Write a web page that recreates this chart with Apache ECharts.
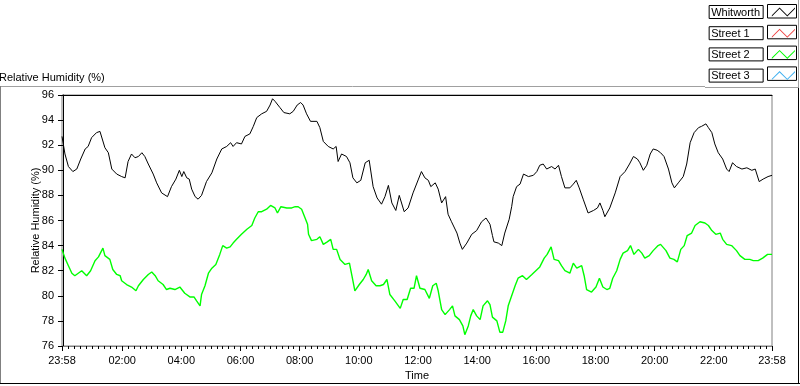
<!DOCTYPE html>
<html>
<head>
<meta charset="utf-8">
<title>Relative Humidity</title>
<script src="https://cdn.jsdelivr.net/npm/echarts@6/dist/echarts.min.js"></script>
<style>
  html, body { margin: 0; padding: 0; background: #fff; }
  #chart { width: 800px; height: 386px; }
</style>
</head>
<body>
<div id="chart"></div>
<script>
// time is minutes after midnight, the day runs 23:58 (-2) .. 23:58 (1438)
const xTickMinutes = [-2, 120, 240, 360, 480, 600, 720, 840, 960, 1080, 1200, 1320, 1438]
const xTickLabels = ['23:58', '02:00', '04:00', '06:00', '08:00', '10:00', '12:00', '14:00', '16:00', '18:00', '20:00', '22:00', '23:58']
const legendNames = ['Whitworth', 'Street 1', 'Street 2', 'Street 3']
const legendColors = ['#000000', '#f04040', '#00ff00', '#40b0f0']

// [minute, %RH]
const whitworth = [
  [-2, 92.7], [4, 91.3], [11, 90.3], [20, 89.9], [28, 90.1], [36, 90.9], [45, 91.7], [51, 91.9], [58, 92.6], [68, 93.0],
  [75, 93.1], [79, 93.0], [85, 91.8], [92, 91.4], [99, 90.1], [109, 89.7], [119, 89.5], [126, 89.4], [132, 90.7], [139, 91.3],
  [146, 91.0], [153, 91.1], [160, 91.4], [166, 91.1], [173, 90.5], [183, 89.7], [190, 89.0], [200, 88.2], [212, 87.9], [220, 88.7],
  [229, 89.3], [236, 90.0], [241, 89.5], [245, 89.9], [251, 89.4], [256, 89.3], [261, 88.5], [268, 87.9], [274, 87.7], [281, 88.0],
  [291, 89.1], [302, 89.8], [312, 90.9], [322, 91.7], [332, 91.9], [340, 92.2], [345, 91.9], [352, 92.2], [362, 92.1], [369, 92.7],
  [379, 92.9], [386, 93.5], [393, 94.2], [403, 94.5], [413, 94.7], [420, 95.2], [425, 95.7], [430, 95.5], [440, 95.0], [448, 94.6],
  [460, 94.5], [467, 94.7], [475, 95.2], [482, 95.4], [487, 95.2], [494, 94.5], [502, 93.9], [515, 93.9], [521, 93.4], [528, 92.3],
  [538, 91.9], [548, 91.7], [554, 91.9], [558, 90.7], [565, 91.3], [575, 91.1], [582, 90.6], [588, 89.4], [596, 89.0], [604, 89.2],
  [613, 90.6], [621, 90.8], [629, 88.7], [637, 87.8], [646, 87.3], [653, 87.9], [660, 88.8], [667, 87.4], [675, 86.8], [682, 88.0],
  [692, 86.7], [700, 87.0], [710, 88.2], [721, 89.3], [727, 89.9], [734, 89.4], [741, 89.2], [746, 88.7], [755, 89.0], [761, 88.5],
  [768, 87.4], [776, 87.9], [781, 86.5], [788, 85.9], [799, 85.0], [805, 84.2], [810, 83.7], [819, 84.2], [829, 84.9], [839, 85.2],
  [849, 85.9], [858, 86.2], [866, 85.7], [871, 84.8], [874, 84.3], [883, 84.2], [890, 84.0], [896, 85.0], [905, 86.1], [910, 87.1],
  [913, 87.9], [920, 88.7], [927, 88.9], [934, 89.7], [944, 89.5], [954, 89.6], [961, 89.9], [967, 90.4], [974, 90.5], [981, 90.1],
  [991, 90.3], [998, 90.1], [1005, 90.4], [1011, 89.5], [1018, 88.6], [1028, 88.6], [1035, 88.9], [1041, 89.2], [1047, 88.6], [1055, 87.7],
  [1065, 86.6], [1076, 86.8], [1084, 87.0], [1089, 87.4], [1095, 86.8], [1099, 86.3], [1109, 87.0], [1120, 88.2], [1130, 89.5], [1140, 89.9],
  [1149, 90.5], [1157, 91.1], [1165, 90.9], [1170, 90.6], [1177, 90.0], [1184, 90.4], [1191, 91.3], [1197, 91.7], [1205, 91.6], [1212, 91.4],
  [1219, 91.1], [1228, 90.1], [1235, 89.0], [1240, 88.6], [1248, 89.0], [1258, 89.5], [1265, 90.5], [1272, 92.2], [1280, 93.0], [1289, 93.4],
  [1295, 93.5], [1304, 93.7], [1309, 93.4], [1316, 93.0], [1322, 92.1], [1329, 91.4], [1338, 90.9], [1346, 90.1], [1351, 89.9], [1358, 90.6],
  [1366, 90.3], [1377, 90.1], [1387, 90.2], [1397, 90.0], [1404, 90.1], [1412, 89.1], [1420, 89.3], [1430, 89.5], [1438, 89.6]
]

const street2 = [
  [-2, 83.7], [4, 83.0], [11, 82.4], [18, 81.8], [24, 81.6], [31, 81.8], [38, 82.0], [48, 81.6], [56, 82.0], [65, 82.8],
  [72, 83.1], [81, 83.8], [85, 83.2], [95, 82.9], [101, 82.1], [109, 81.7], [116, 81.6], [119, 81.2], [129, 80.9], [139, 80.7],
  [148, 80.4], [153, 80.8], [163, 81.3], [173, 81.7], [180, 81.9], [187, 81.6], [193, 81.2], [203, 80.9], [210, 80.5], [217, 80.6],
  [227, 80.5], [237, 80.7], [247, 80.2], [258, 79.9], [266, 79.9], [271, 79.6], [278, 79.2], [281, 80.1], [288, 80.8], [295, 81.8],
  [302, 82.2], [310, 82.5], [318, 83.3], [324, 84.0], [332, 83.8], [339, 83.9], [345, 84.2], [352, 84.5], [362, 84.9], [373, 85.3],
  [383, 85.6], [389, 86.2], [396, 86.7], [403, 86.7], [413, 86.9], [421, 87.2], [430, 87.0], [435, 86.6], [442, 87.1], [454, 87.0],
  [464, 87.0], [471, 87.1], [477, 87.1], [484, 86.9], [491, 86.2], [496, 85.7], [498, 84.9], [504, 84.4], [515, 84.5], [521, 84.7],
  [528, 84.1], [536, 84.3], [543, 84.5], [548, 83.7], [555, 83.7], [562, 82.9], [572, 82.5], [581, 82.6], [586, 81.6], [592, 80.4],
  [601, 80.9], [609, 81.3], [615, 81.7], [619, 82.1], [626, 81.2], [635, 80.8], [643, 80.8], [650, 80.9], [657, 81.3], [663, 80.1],
  [673, 79.6], [684, 79.0], [690, 79.7], [698, 79.7], [705, 80.6], [712, 80.6], [717, 81.6], [724, 80.6], [734, 80.5], [743, 79.8],
  [750, 80.8], [757, 81.0], [761, 80.4], [768, 78.9], [775, 78.5], [784, 78.9], [790, 79.2], [795, 78.4], [804, 78.1], [811, 77.6],
  [815, 76.9], [822, 77.6], [827, 78.4], [832, 78.9], [839, 78.4], [846, 78.1], [852, 79.2], [861, 79.6], [866, 79.3], [871, 78.3],
  [880, 78.0], [886, 77.1], [892, 77.1], [898, 78.0], [903, 79.2], [910, 80.0], [917, 80.8], [923, 81.4], [932, 81.6], [940, 81.3],
  [951, 81.7], [959, 82.0], [967, 82.3], [976, 83.0], [982, 83.3], [990, 83.9], [996, 82.9], [1005, 82.8], [1011, 82.4], [1018, 82.0],
  [1028, 81.8], [1035, 82.6], [1042, 82.2], [1052, 82.4], [1057, 81.6], [1062, 80.5], [1072, 80.3], [1081, 80.7], [1088, 81.4], [1095, 80.7],
  [1103, 80.5], [1109, 80.6], [1115, 81.4], [1123, 82.0], [1130, 82.9], [1136, 83.4], [1145, 83.6], [1151, 84.0], [1158, 83.3], [1167, 83.7],
  [1174, 83.4], [1180, 83.0], [1189, 83.2], [1197, 83.6], [1207, 84.0], [1212, 84.1], [1223, 83.6], [1231, 83.0], [1239, 82.9], [1246, 82.7],
  [1253, 83.7], [1260, 84.0], [1266, 84.8], [1275, 85.0], [1282, 85.6], [1292, 85.9], [1302, 85.8], [1309, 85.6], [1316, 85.2], [1324, 84.9],
  [1333, 85.0], [1338, 84.5], [1346, 84.1], [1356, 84.0], [1366, 83.6], [1373, 83.2], [1383, 82.9], [1393, 82.9], [1400, 82.8], [1410, 82.8],
  [1419, 83.0], [1429, 83.3], [1438, 83.3]
]
const street1 = []
const street3 = []

const font = 'Liberation Sans, Arial, sans-serif'

// ten small ticks between each pair of labelled ticks
const minorTicks = []
for (let i = 0; i < xTickMinutes.length - 1; i++) {
  const a = xTickMinutes[i]
  const step = (xTickMinutes[i + 1] - a) / 10
  for (let k = 1; k < 10; k++) minorTicks.push(a + k * step)
}

const chart = echarts.init(document.getElementById('chart'))

// boxes round the legend line samples
const rowStep = 20.8
const legendBoxes = legendNames.map((n, i) => ({
  type: 'rect',
  shape: { x: 767.5, y: 4.5 + i * rowStep, width: 29, height: 13.5 },
  style: { fill: 'none', stroke: '#000', lineWidth: 1 },
  z: 0
}))

const option = {
  animation: false,
  backgroundColor: '#fff',
  title: {
    text: 'Relative Humidity (%)',
    left: -1,
    top: 72,
    padding: 0,
    textStyle: { fontFamily: font, fontSize: 11, fontWeight: 'normal', color: '#000' }
  },
  legend: {
    data: legendNames,
    orient: 'vertical',
    right: 5,
    top: 5,
    padding: 0,
    align: 'right',
    itemGap: 7.2,
    itemWidth: 28,
    itemHeight: 9,
    // thin zigzag band filled with the series colour; the dot at x=-3 only leaves a gap before it
    icon: 'path://M-3,1 L-3,1 Z M0,10 L9,1 L18,10 L27,1 L27,2.5 L18,11.5 L9,2.5 L0,11.5 Z',
    itemStyle: { borderWidth: 0 },
    selectedMode: false,
    formatter: (name) => '{a|' + name + '}',
    textStyle: {
      fontFamily: font,
      fontSize: 11,
      color: '#000',
      padding: [1, 2, 0, 2],
      borderColor: '#000',
      borderWidth: 1,
      rich: {
        a: { width: 50, align: 'left', fontFamily: font, fontSize: 11, lineHeight: 12, color: '#000' }
      }
    }
  },
  graphic: legendBoxes.concat([
    // outer frame
    { type: 'line', shape: { x1: 0, y1: 86.5, x2: 705, y2: 86.5 }, style: { stroke: '#a0a0a0', lineWidth: 1 } },
    { type: 'line', shape: { x1: 705, y1: 87.5, x2: 799, y2: 87.5 }, style: { stroke: '#a0a0a0', lineWidth: 1 } },
    { type: 'line', shape: { x1: 798.5, y1: 0, x2: 798.5, y2: 87 }, style: { stroke: '#a0a0a0', lineWidth: 1 } },
    { type: 'line', shape: { x1: 0.5, y1: 86, x2: 0.5, y2: 384 }, style: { stroke: '#808080', lineWidth: 1 } },
    { type: 'line', shape: { x1: 0, y1: 383.5, x2: 800, y2: 383.5 }, style: { stroke: '#000', lineWidth: 1 } },
    { type: 'line', shape: { x1: 798.5, y1: 88, x2: 798.5, y2: 384 }, style: { stroke: '#000', lineWidth: 1 } }
  ]),
  grid: {
    left: 62,
    right: 28,
    top: 95,
    bottom: 40,
    show: true,
    borderColor: '#808080',
    borderWidth: 1
  },
  xAxis: [
    {
      type: 'value',
      min: -2,
      max: 1438,
      name: 'Time',
      nameLocation: 'middle',
      nameGap: 24,
      nameMoveOverlap: false,
      nameTextStyle: { fontFamily: font, fontSize: 11, color: '#000' },
      axisLine: { show: true, lineStyle: { color: '#808080', width: 1 } },
      axisTick: { show: true, length: 5, customValues: xTickMinutes, lineStyle: { color: '#000' } },
      axisLabel: {
        margin: 9,
        customValues: xTickMinutes,
        fontFamily: font,
        fontSize: 11,
        color: '#000',
        formatter: (v) => xTickLabels[xTickMinutes.indexOf(v)]
      },
      splitLine: { show: false }
    },
    {
      // small ticks
      type: 'value',
      min: -2,
      max: 1438,
      position: 'bottom',
      axisLine: { show: false },
      axisTick: { show: true, length: 3, customValues: minorTicks, lineStyle: { color: '#000' } },
      axisLabel: { show: false },
      splitLine: { show: false }
    },
    {
      // black top edge of the plot
      type: 'value',
      min: -2,
      max: 1438,
      position: 'top',
      axisLine: { show: true, lineStyle: { color: '#000', width: 1 } },
      axisTick: { show: false },
      axisLabel: { show: false },
      splitLine: { show: false }
    }
  ],
  yAxis: {
    type: 'value',
    min: 76,
    max: 96,
    interval: 2,
    name: 'Relative Humidity (%)',
    nameLocation: 'middle',
    nameGap: 21,
    nameMoveOverlap: false,
    nameTextStyle: { fontFamily: font, fontSize: 11, color: '#000' },
    axisLine: { show: true, lineStyle: { color: '#000', width: 1 } },
    axisTick: { show: true, length: 5, lineStyle: { color: '#000' } },
    axisLabel: { margin: 8, fontFamily: font, fontSize: 11, color: '#000' },
    splitLine: { show: false }
  },
  series: [
    { name: 'Whitworth', type: 'line', data: whitworth, color: legendColors[0], showSymbol: false, lineStyle: { width: 1 } },
    { name: 'Street 1', type: 'line', data: street1, color: legendColors[1], showSymbol: false, lineStyle: { width: 1 } },
    { name: 'Street 2', type: 'line', data: street2, color: legendColors[2], showSymbol: false, lineStyle: { width: 1.4 } },
    { name: 'Street 3', type: 'line', data: street3, color: legendColors[3], showSymbol: false, lineStyle: { width: 1 } }
  ]
}

chart.setOption(option)
</script>
</body>
</html>
